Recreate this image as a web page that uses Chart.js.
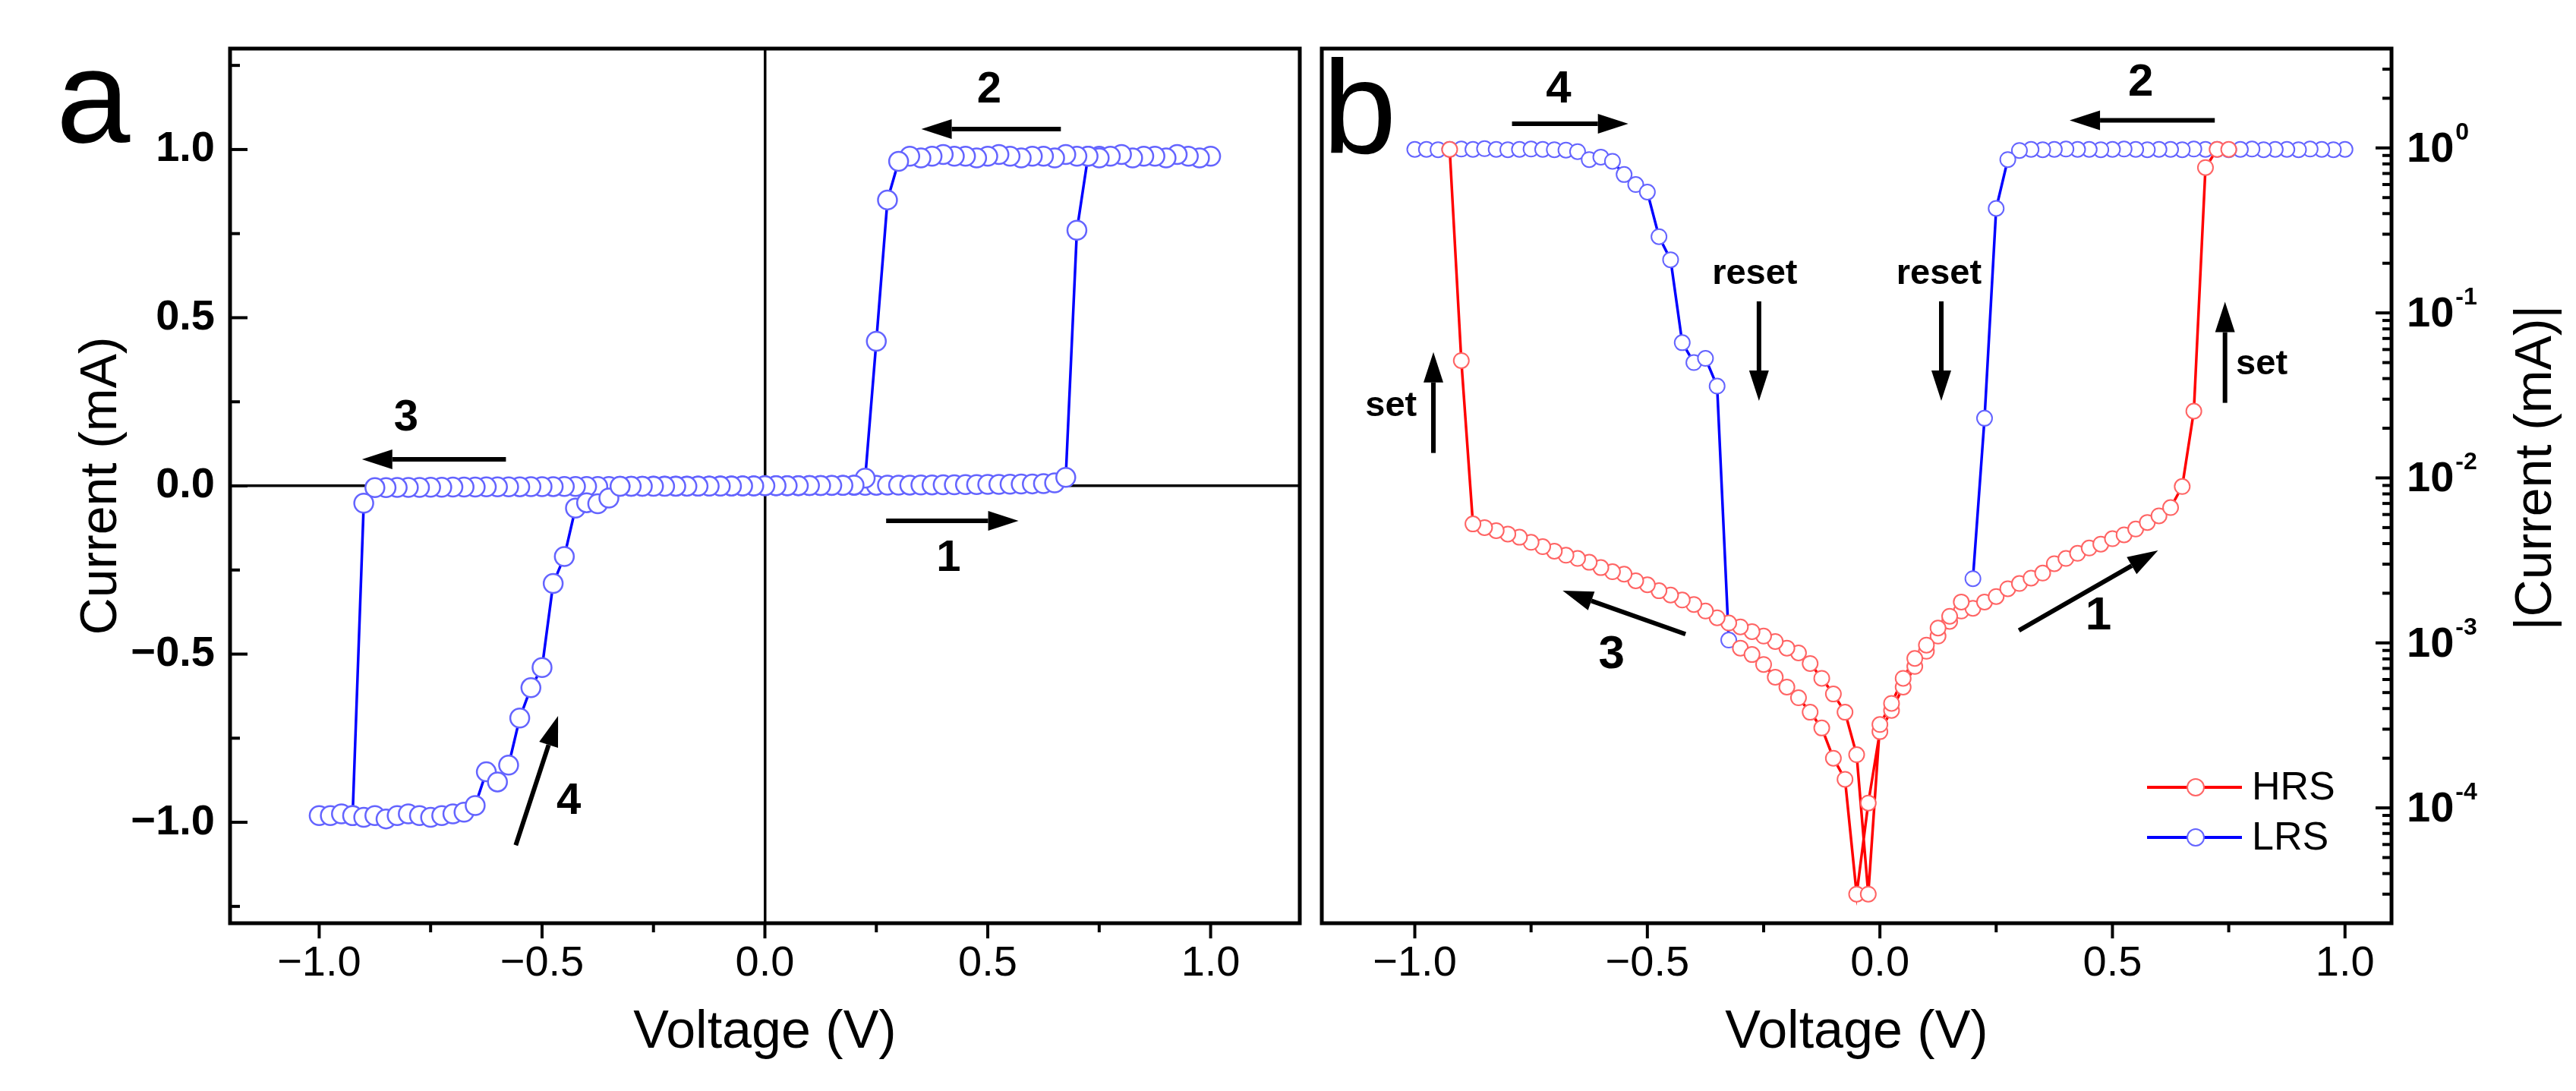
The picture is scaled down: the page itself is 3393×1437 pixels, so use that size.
<!DOCTYPE html>
<html>
<head>
<meta charset="utf-8">
<script src="https://cdn.jsdelivr.net/npm/chart.js@4.4.0/dist/chart.umd.min.js"></script>
<style>
html, body { margin: 0; padding: 0; background: #fff; }
#wrapA { position: absolute; left: 0; top: 0; }
#wrapB { position: absolute; left: 1727px; top: 0; }
</style>
</head>
<body>
<div id="wrapA"><canvas id="chartA" width="1727" height="1437"></canvas></div>
<div id="wrapB"><canvas id="chartB" width="1666" height="1437"></canvas></div>
<script>
// one bipolar sweep, 25 mV steps, |I| in mA

// sweep 1 : HRS, -0.3 V -> 0.75 V (set at 0.7 V)
var hrsVolt1 = [-0.3, -0.275, -0.25, -0.225, -0.2, -0.175, -0.15, -0.125, -0.1, -0.075, -0.05, -0.025,
	0, 0.025, 0.05, 0.075, 0.1, 0.125, 0.15, 0.175, 0.2, 0.225, 0.25, 0.275, 0.3, 0.325, 0.35, 0.375,
	0.4, 0.425, 0.45, 0.475, 0.5, 0.525, 0.55, 0.575, 0.6, 0.625, 0.65, 0.675, 0.7, 0.725, 0.75];
var hrsCurr1 = [9.3e-4, 8.5e-4, 7.4e-4, 6.2e-4, 5.4e-4, 4.65e-4, 3.8e-4, 3.05e-4, 2.0e-4, 1.49e-4, 3.0e-5, 1.07e-4,
	2.9e-4, 3.9e-4, 5.4e-4, 7.2e-4, 8.9e-4, 1.1e-3, 1.35e-3, 1.56e-3, 1.62e-3, 1.77e-3, 1.91e-3, 2.13e-3, 2.29e-3, 2.47e-3, 2.65e-3, 3.02e-3,
	3.25e-3, 3.49e-3, 3.76e-3, 3.97e-3, 4.28e-3, 4.52e-3, 4.9e-3, 5.37e-3, 5.89e-3, 6.61e-3, 8.87e-3, 0.0254, 0.76, 0.98, 0.98];

// sweep 2 : LRS, 1.0 V -> 0.2 V (reset at 0.25 V)
var lrsVolt1 = [1.0, 0.975, 0.95, 0.925, 0.9, 0.875, 0.85, 0.825, 0.8, 0.775, 0.75, 0.725, 0.7, 0.675, 0.65, 0.625,
	0.6, 0.575, 0.55, 0.525, 0.5, 0.475, 0.45, 0.425, 0.4, 0.375, 0.35, 0.325, 0.3, 0.275, 0.25, 0.225, 0.2];
var lrsCurr1 = [0.98, 0.975, 0.98, 0.985, 0.975, 0.98, 0.98, 0.975, 0.985, 0.98, 0.975, 0.98, 0.98, 0.985, 0.975, 0.98,
	0.98, 0.975, 0.98, 0.985, 0.98, 0.975, 0.98, 0.98, 0.985, 0.98, 0.975, 0.98, 0.965, 0.85, 0.43, 0.023, 0.00245];

// sweep 3 : HRS, 0.175 V -> -0.925 V (set at -0.9 V)
var hrsVolt2 = [0.175, 0.15, 0.125, 0.1, 0.075, 0.05, 0.025, 0, -0.025, -0.05, -0.075, -0.1, -0.125, -0.15, -0.175,
	-0.2, -0.225, -0.25, -0.275, -0.3, -0.325, -0.35, -0.375, -0.4, -0.425, -0.45, -0.475, -0.5, -0.525, -0.55,
	-0.575, -0.6, -0.625, -0.65, -0.675, -0.7, -0.725, -0.75, -0.775, -0.8, -0.825, -0.85, -0.875, -0.9, -0.925];
var hrsCurr2 = [1.77e-3, 1.45e-3, 1.23e-3, 9.7e-4, 8.05e-4, 6.1e-4, 4.3e-4, 3.2e-4, 3.0e-5, 2.1e-4, 3.8e-4, 4.9e-4, 6.1e-4, 7.5e-4, 8.7e-4,
	9.3e-4, 1.02e-3, 1.1e-3, 1.17e-3, 1.25e-3, 1.32e-3, 1.42e-3, 1.56e-3, 1.71e-3, 1.82e-3, 1.95e-3, 2.07e-3, 2.25e-3, 2.38e-3, 2.61e-3,
	2.7e-3, 2.86e-3, 3.08e-3, 3.25e-3, 3.4e-3, 3.6e-3, 3.83e-3, 4.07e-3, 4.37e-3, 4.57e-3, 4.79e-3, 5.0e-3, 5.26e-3, 0.0514, 0.98];

// sweep 4 : LRS, -1.0 V -> -0.325 V (reset at -0.35 V)
var lrsVolt2 = [-1.0, -0.975, -0.95, -0.925, -0.9, -0.875, -0.85, -0.825, -0.8, -0.775, -0.75, -0.725, -0.7, -0.675,
	-0.65, -0.625, -0.6, -0.575, -0.55, -0.525, -0.5, -0.475, -0.45, -0.425, -0.4, -0.375, -0.35, -0.325];
var lrsCurr2 = [0.98, 0.98, 0.975, 0.98, 0.985, 0.98, 0.99, 0.98, 0.975, 0.98, 0.985, 0.98, 0.975, 0.97,
	0.95, 0.85, 0.88, 0.83, 0.69, 0.60, 0.54, 0.29, 0.21, 0.066, 0.05, 0.053, 0.036, 0.00104];

// tick labels
var voltTicks = [-1.0, -0.5, 0.0, 0.5, 1.0];
var currTicks = [-1.0, -0.5, 0.0, 0.5, 1.0];
var logDecades = [-4, -3, -2, -1, 0];

var fontFam = "'Liberation Sans', Arial, Helvetica, sans-serif";

function isOn(v, list) {
	return list.some(t => Math.abs(t - v) < 1e-9);
}

function minus(s) {
	return s.replace('-', '\u2212');
}

function toPoints(volts, currs, signed) {
	return volts.map((v, i) => ({ x: v, y: (signed && v < 0) ? -currs[i] : currs[i] }));
}

function line(ctx, x1, y1, x2, y2) {
	ctx.beginPath();
	ctx.moveTo(x1, y1);
	ctx.lineTo(x2, y2);
	ctx.stroke();
}

function drawArrow(ctx, x1, y1, x2, y2) {
	var ang = Math.atan2(y2 - y1, x2 - x1);
	var head = 40, half = 13;
	var bx = x2 - head * Math.cos(ang), by = y2 - head * Math.sin(ang);
	ctx.save();
	ctx.strokeStyle = '#000';
	ctx.fillStyle = '#000';
	ctx.lineWidth = 6;
	line(ctx, x1, y1, bx, by);
	ctx.beginPath();
	ctx.moveTo(x2, y2);
	ctx.lineTo(bx + half * Math.sin(ang), by - half * Math.cos(ang));
	ctx.lineTo(bx - half * Math.sin(ang), by + half * Math.cos(ang));
	ctx.closePath();
	ctx.fill();
	ctx.restore();
}

function drawNotes(chart, notes, arrows) {
	var ctx = chart.ctx, xs = chart.scales.x, ys = chart.scales.y;
	arrows.forEach(a => {
		drawArrow(ctx, xs.getPixelForValue(a[0]), ys.getPixelForValue(a[1]), xs.getPixelForValue(a[2]), ys.getPixelForValue(a[3]));
	});
	ctx.save();
	ctx.fillStyle = '#000';
	ctx.textAlign = 'center';
	ctx.textBaseline = 'middle';
	notes.forEach(n => {
		ctx.font = 'bold ' + n.size + 'px ' + fontFam;
		ctx.fillText(n.text, xs.getPixelForValue(n.x), ys.getPixelForValue(n.y));
	});
	ctx.restore();
}

function drawBottomTicks(chart) {
	var ctx = chart.ctx, a = chart.chartArea, xs = chart.scales.x;
	ctx.save();
	ctx.strokeStyle = '#000';
	ctx.lineWidth = 4;
	xs.ticks.forEach(t => {
		var px = xs.getPixelForValue(t.value);
		line(ctx, px, a.bottom, px, a.bottom + (isOn(t.value, voltTicks) ? 20 : 12));
	});
	ctx.restore();
}

function drawBox(chart) {
	var ctx = chart.ctx, a = chart.chartArea;
	ctx.save();
	ctx.strokeStyle = '#000';
	ctx.lineWidth = 5;
	ctx.strokeRect(a.left, a.top, a.right - a.left, a.bottom - a.top);
	ctx.restore();
}

function panelLetter(chart, text, x, y) {
	var ctx = chart.ctx;
	ctx.save();
	ctx.fillStyle = '#000';
	ctx.font = '175px ' + fontFam;
	ctx.textAlign = 'left';
	ctx.textBaseline = 'alphabetic';
	ctx.fillText(text, x, y);
	ctx.restore();
}

var zeroLine = c => (c.tick && Math.abs(c.tick.value) < 1e-9) ? '#000' : 'rgba(0,0,0,0)';

// ---------- panel a : linear I-V loop ----------
var loopA = [].concat(
	toPoints(hrsVolt1, hrsCurr1, true),
	toPoints(lrsVolt1, lrsCurr1, true),
	toPoints(hrsVolt2, hrsCurr2, true),
	toPoints(lrsVolt2, lrsCurr2, true)
);

var notesA = [
	{ text: '2', x: 0.503, y: 1.176, size: 58 },
	{ text: '1', x: 0.412, y: -0.217, size: 58 },
	{ text: '3', x: -0.805, y: 0.2, size: 58 },
	{ text: '4', x: -0.44, y: -0.94, size: 58 }
];
var arrowsA = [
	[0.664, 1.061, 0.351, 1.061],
	[0.272, -0.104, 0.569, -0.104],
	[-0.581, 0.079, -0.904, 0.079],
	[-0.559, -1.068, -0.464, -0.684]
];

var decorA = {
	id: 'decorA',
	afterDatasetsDraw(chart) {
		var ctx = chart.ctx, a = chart.chartArea, ys = chart.scales.y;
		drawBottomTicks(chart);
		ctx.save();
		ctx.strokeStyle = '#000';
		ctx.lineWidth = 4;
		ys.ticks.forEach(t => {
			var py = ys.getPixelForValue(t.value);
			line(ctx, a.left, py, a.left + (isOn(t.value, currTicks) ? 23 : 13), py);
		});
		ctx.restore();
		drawBox(chart);
		drawNotes(chart, notesA, arrowsA);
		panelLetter(chart, 'a', 74, 187);
	}
};

new Chart(document.getElementById('chartA'), {
	type: 'line',
	data: {
		datasets: [{
			data: loopA,
			borderColor: '#0000ff',
			borderWidth: 3.5,
			pointRadius: 12.5,
			pointBorderWidth: 2.5,
			pointBorderColor: '#6464ff',
			pointBackgroundColor: '#ffffff',
			tension: 0,
			fill: false
		}]
	},
	options: {
		responsive: false,
		animation: false,
		devicePixelRatio: 1,
		events: [],
		layout: { padding: { left: 0, top: 64, right: 14, bottom: 0 } },
		plugins: { legend: { display: false }, tooltip: { enabled: false } },
		scales: {
			x: {
				type: 'linear', min: -1.2, max: 1.2,
				afterFit: s => { s.height = 221; },
				grid: { drawTicks: false, color: zeroLine, lineWidth: 3.5 },
				border: { display: false },
				ticks: {
					stepSize: 0.25, autoSkip: false, includeBounds: false, maxRotation: 0, padding: 20,
					color: '#000', font: { family: fontFam, size: 56 },
					callback: v => isOn(v, voltTicks) ? minus(v.toFixed(1)) : ''
				},
				title: { display: true, text: 'Voltage (V)', color: '#000', font: { family: fontFam, size: 70 }, padding: { top: 0, bottom: 34 } }
			},
			y: {
				type: 'linear', position: 'left', min: -1.3, max: 1.3,
				afterFit: s => { s.width = 303; },
				grid: { drawTicks: false, color: zeroLine, lineWidth: 3.5 },
				border: { display: false },
				ticks: {
					stepSize: 0.25, autoSkip: false, includeBounds: false, padding: 20,
					color: '#000', font: { family: fontFam, size: 56, weight: 'bold' },
					callback: v => isOn(v, currTicks) ? minus(v.toFixed(1)) : ''
				},
				title: { display: true, text: 'Current (mA)', color: '#000', font: { family: fontFam, size: 68 }, padding: { top: 93, bottom: 0 } }
			}
		}
	},
	plugins: [decorA]
});

// ---------- panel b : |I| on log scale ----------
var gap = { x: 0, y: null };
var hrsPoints = [].concat(toPoints(hrsVolt1, hrsCurr1, false), [gap], toPoints(hrsVolt2, hrsCurr2, false));
var lrsPoints = [].concat(toPoints(lrsVolt1, lrsCurr1, false), [gap], toPoints(lrsVolt2, lrsCurr2, false));

var notesB = [
	{ text: '4', x: -0.691, y: 2.25, size: 60 },
	{ text: '2', x: 0.561, y: 2.48, size: 60 },
	{ text: '3', x: -0.577, y: 8.47e-4, size: 62 },
	{ text: '1', x: 0.47, y: 1.445e-3, size: 62 },
	{ text: 'reset', x: -0.269, y: 0.172, size: 47 },
	{ text: 'reset', x: 0.127, y: 0.172, size: 47 },
	{ text: 'set', x: -1.051, y: 0.0272, size: 47 },
	{ text: 'set', x: 0.821, y: 0.0488, size: 47 }
];
var arrowsB = [
	[-0.791, 1.40, -0.541, 1.40],
	[0.72, 1.47, 0.408, 1.47],
	[-0.26, 0.1175, -0.26, 0.0293],
	[0.132, 0.1175, 0.132, 0.0293],
	[-0.96, 0.01416, -0.96, 0.0579],
	[0.742, 0.0285, 0.742, 0.1167],
	[-0.418, 1.13e-3, -0.682, 2.07e-3],
	[0.299, 1.19e-3, 0.598, 3.63e-3]
];

var decorB = {
	id: 'decorB',
	afterDatasetsDraw(chart) {
		var ctx = chart.ctx, a = chart.chartArea, ys = chart.scales.y;
		drawBottomTicks(chart);
		ctx.save();
		ctx.strokeStyle = '#000';
		ctx.lineWidth = 4;
		ys.ticks.forEach(t => {
			var py = ys.getPixelForValue(t.value);
			line(ctx, a.right - (t.major ? 21 : 12), py, a.right, py);
		});
		// decade labels 10^n
		ctx.fillStyle = '#000';
		ctx.textAlign = 'left';
		ctx.textBaseline = 'alphabetic';
		logDecades.forEach(e => {
			var py = ys.getPixelForValue(Math.pow(10, e));
			ctx.font = 'bold 56px ' + fontFam;
			ctx.fillText('10', a.right + 20, py + 18);
			var w = ctx.measureText('10').width;
			ctx.font = 'bold 32px ' + fontFam;
			ctx.fillText(String(e), a.right + 22 + w, py - 11);
		});
		// right axis title, reading bottom to top
		ctx.save();
		ctx.translate(a.right + 191, (a.top + a.bottom) / 2 - 24);
		ctx.rotate(-Math.PI / 2);
		ctx.font = '68px ' + fontFam;
		ctx.textAlign = 'center';
		ctx.textBaseline = 'middle';
		ctx.fillText('|Current (mA)|', 0, 0);
		ctx.restore();
		// legend
		chart.data.datasets.forEach((ds, i) => {
			var ly = 1037 + i * 66, lx = a.right - 322;
			ctx.strokeStyle = ds.borderColor;
			ctx.lineWidth = 4;
			line(ctx, lx, ly, lx + 125, ly);
			ctx.beginPath();
			ctx.arc(lx + 64, ly, 11, 0, Math.PI * 2);
			ctx.fillStyle = '#fff';
			ctx.fill();
			ctx.lineWidth = 2;
			ctx.strokeStyle = ds.pointBorderColor;
			ctx.stroke();
			ctx.fillStyle = '#000';
			ctx.font = '52px ' + fontFam;
			ctx.textBaseline = 'middle';
			ctx.fillText(ds.label, lx + 138, ly + 2);
			ctx.textBaseline = 'alphabetic';
		});
		ctx.restore();
		drawBox(chart);
		drawNotes(chart, notesB, arrowsB);
		panelLetter(chart, 'b', a.left + 1, 201);
	}
};

new Chart(document.getElementById('chartB'), {
	type: 'line',
	data: {
		datasets: [{
			label: 'HRS',
			data: hrsPoints,
			borderColor: '#ff0000',
			borderWidth: 3.5,
			pointRadius: 10,
			pointBorderWidth: 2,
			pointBorderColor: '#ff6464',
			pointBackgroundColor: '#ffffff',
			tension: 0,
			fill: false
		}, {
			label: 'LRS',
			data: lrsPoints,
			borderColor: '#0000ff',
			borderWidth: 3.5,
			pointRadius: 10,
			pointBorderWidth: 2,
			pointBorderColor: '#6464ff',
			pointBackgroundColor: '#ffffff',
			tension: 0,
			fill: false
		}]
	},
	options: {
		responsive: false,
		animation: false,
		devicePixelRatio: 1,
		events: [],
		layout: { padding: { left: 14, top: 64, right: 0, bottom: 0 } },
		plugins: { legend: { display: false }, tooltip: { enabled: false } },
		scales: {
			x: {
				type: 'linear', min: -1.2, max: 1.1,
				afterFit: s => { s.height = 221; },
				grid: { display: false, drawTicks: false },
				border: { display: false },
				ticks: {
					stepSize: 0.25, autoSkip: false, includeBounds: false, maxRotation: 0, padding: 20,
					color: '#000', font: { family: fontFam, size: 56 },
					callback: v => isOn(v, voltTicks) ? minus(v.toFixed(1)) : ''
				},
				title: { display: true, text: 'Voltage (V)', color: '#000', font: { family: fontFam, size: 70 }, padding: { top: 0, bottom: 34 } }
			},
			y: {
				type: 'logarithmic', position: 'right', min: 2e-5, max: 4,
				afterFit: s => { s.width = 243; },
				afterBuildTicks: s => {
					var list = [];
					for (var e = -5; e <= 0; e++) {
						for (var m = 1; m <= 9; m++) {
							var v = m * Math.pow(10, e);
							if (v >= s.min && v <= s.max) list.push({ value: v, major: m === 1 });
						}
					}
					s.ticks = list;
				},
				grid: { display: false, drawTicks: false },
				border: { display: false },
				ticks: { display: false },
				title: { display: false }
			}
		}
	},
	plugins: [decorB]
});
</script>
</body>
</html>
